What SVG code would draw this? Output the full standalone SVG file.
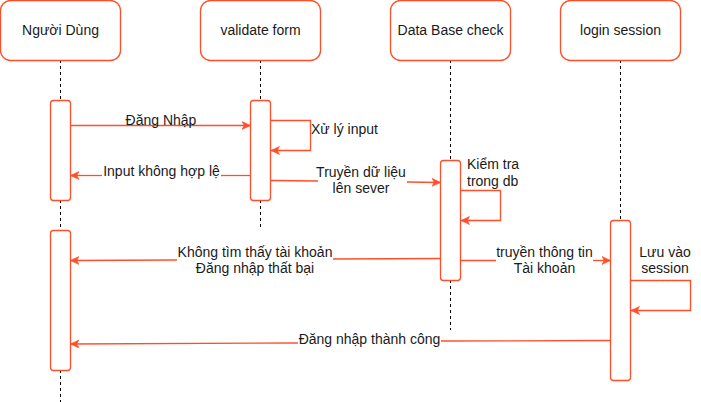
<svg xmlns="http://www.w3.org/2000/svg" width="701" height="402" viewBox="0 0 701 402">
<style>
.hdr{fill:#fff;stroke:#FF4F2A;stroke-width:1.3}
.act{fill:#fff;stroke:#FF4F2A;stroke-width:1.3}
.life{stroke:#000;stroke-width:1;stroke-dasharray:3,3;fill:none}
.msg{stroke:#FF4F2A;stroke-width:1.3;fill:none}
text{font-family:"Liberation Sans",Arial,sans-serif;font-size:14px;fill:#1a1a1a}
.c{text-anchor:middle}
</style>
<defs>
<marker id="arr" markerUnits="userSpaceOnUse" markerWidth="9" markerHeight="9" viewBox="0 0 9 9" refX="8.5" refY="4.5" orient="auto">
<path d="M0,0.5 L8.5,4.5 L0,8.5 L2.2,4.5 Z" fill="#FF4F2A" stroke="#FF4F2A" stroke-width="0.6"/>
</marker>
</defs>
<g id="lifelines">
<path class="life" d="M60.5,60 V100 M60.5,200 V230 M60.5,370 V402"/>
<path class="life" d="M260.5,60 V100 M260.5,200 V230"/>
<path class="life" d="M450.5,60 V160 M450.5,280 V330"/>
<path class="life" d="M620.5,60 V220"/>
</g>
<g id="nguoi-dung"><rect class="hdr" x="0.5" y="0.5" width="120" height="60" rx="10"/><text class="c" x="60.5" y="35">Người Dùng</text></g>
<g id="validate-form"><rect class="hdr" x="200.5" y="0.5" width="120" height="60" rx="10"/><text class="c" x="260.5" y="35">validate form</text></g>
<g id="database-check"><rect class="hdr" x="390.5" y="0.5" width="120" height="60" rx="10"/><text class="c" x="450.5" y="35">Data Base check</text></g>
<g id="login-session"><rect class="hdr" x="560.5" y="0.5" width="120" height="60" rx="10"/><text class="c" x="620.5" y="35">login session</text></g>
<g id="act-user-1"><rect class="act" x="50.5" y="100.5" width="20" height="100" rx="3"/></g>
<g id="act-user-2"><rect class="act" x="50.5" y="230.5" width="20" height="140" rx="3"/></g>
<g id="act-validate"><rect class="act" x="250.5" y="100.5" width="20" height="100" rx="3"/></g>
<g id="act-db"><rect class="act" x="440.5" y="160.5" width="20" height="120" rx="3"/></g>
<g id="act-session"><rect class="act" x="610.5" y="220.5" width="20" height="160" rx="3"/></g>
<g id="connectors">
<path class="msg" d="M70.5,125.5 H250.5" marker-end="url(#arr)"/>
<path class="msg" d="M270.5,120.5 H310.5 V150.5 H271" marker-end="url(#arr)"/>
<path class="msg" d="M250.5,175.5 H221"/>
<path class="msg" d="M102,175.5 H70.5" marker-end="url(#arr)"/>
<path class="msg" d="M270.5,180.5 L318,181"/>
<path class="msg" d="M407,182 L440.5,182.5" marker-end="url(#arr)"/>
<path class="msg" d="M460.5,190.5 H500.5 V220.5 H461" marker-end="url(#arr)"/>
<path class="msg" d="M440.5,258.5 L333,259"/>
<path class="msg" d="M177,260 L70.5,260.5" marker-end="url(#arr)"/>
<path class="msg" d="M460.5,260.5 H496"/>
<path class="msg" d="M593,260.5 H610.5" marker-end="url(#arr)"/>
<path class="msg" d="M630.5,280.5 H690.5 V310.5 H631" marker-end="url(#arr)"/>
<path class="msg" d="M610.5,340.5 L441,341"/>
<path class="msg" d="M298,343 L70.5,344" marker-end="url(#arr)"/>
</g>
<g id="labels">
<text class="c" x="161" y="125">Đăng Nhập</text>
<text x="311" y="134">Xử lý input</text>
<text class="c" x="161.5" y="176">Input không hợp lệ</text>
<text class="c" x="361" y="177">Truyền dữ liệu</text>
<text class="c" x="361" y="193">lên sever</text>
<text x="467" y="169">Kiểm tra</text>
<text x="467" y="186">trong db</text>
<text class="c" x="255" y="257">Không tìm thấy tài khoản</text>
<text class="c" x="255" y="273">Đăng nhập thất bại</text>
<text class="c" x="544.5" y="257">truyền thông tin</text>
<text class="c" x="544.5" y="273">Tài khoản</text>
<text class="c" x="665" y="257">Lưu vào</text>
<text class="c" x="665" y="273">session</text>
<text class="c" x="369.5" y="344">Đăng nhập thành công</text>
</g>
</svg>
